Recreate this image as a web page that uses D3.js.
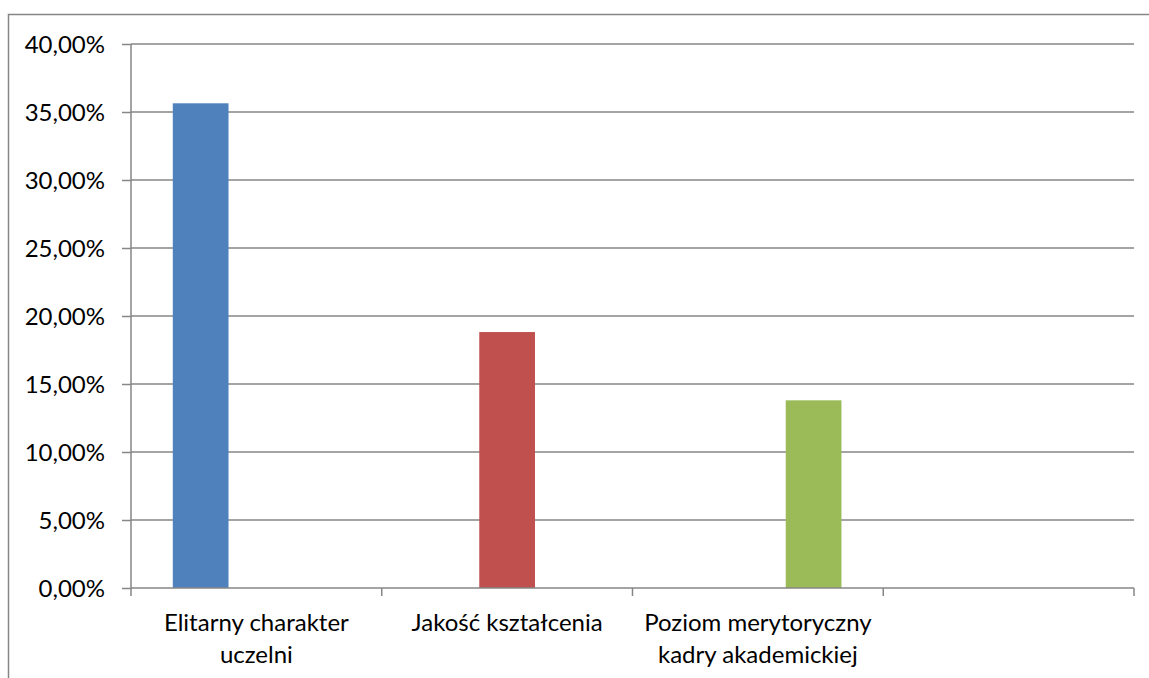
<!DOCTYPE html>
<html>
<head>
<meta charset="utf-8">
<script src="https://cdn.jsdelivr.net/npm/d3@7"></script>
<style>
  html, body { margin: 0; padding: 0; background: #fff; }
  svg { display: block; }
  text { font-family: Lato, "Open Sans", sans-serif; fill: #000; }
</style>
</head>
<body>
<svg id="chart" width="1149" height="678"></svg>
<script>
// Categories (the fourth slot is left without a label)
const categories = ["Elitarny charakter uczelni", "Jakość kształcenia", "Poziom merytoryczny kadry akademickiej", ""];
const categoryLines = [["Elitarny charakter", "uczelni"], ["Jakość kształcenia"], ["Poziom merytoryczny", "kadry akademickiej"], []];
// One series per answer; each has a value only in its own category (percent)
const seriesNames = ["Elitarny charakter uczelni", "Jakość kształcenia", "Poziom merytoryczny kadry akademickiej"];
const seriesElitarny = [35.64, 0, 0, 0];
const seriesJakosc = [0, 18.82, 0, 0];
const seriesPoziom = [0, 0, 13.8, 0];
const seriesColors = ["#4F81BD", "#C0504D", "#9BBB59"];
const yTicks = [0, 5, 10, 15, 20, 25, 30, 35, 40];

const series = [seriesElitarny, seriesJakosc, seriesPoziom];

const svg = d3.select("#chart");
const W = 1149, H = 678;
const plot = { left: 131, right: 1134, top: 44, bottom: 588 };
const gridColor = "#868686";
const fontSize = 24;

// Outer chart border (continues past the right and bottom edges)
svg.append("path")
  .attr("d", `M8.5,${H + 2} V14.5 H${W + 2}`)
  .attr("fill", "none")
  .attr("stroke", gridColor)
  .attr("stroke-width", 1.5);

const x = d3.scaleBand()
  .domain(d3.range(categories.length))
  .range([plot.left, plot.right])
  .paddingInner(0).paddingOuter(0);

// Gap width of 150% of a bar on each cluster
const barW = x.bandwidth() / (series.length + 1.5);
const xs = d3.scaleBand()
  .domain(d3.range(series.length))
  .range([barW * 0.75, barW * 0.75 + barW * series.length])
  .padding(0);

const y = d3.scaleLinear().domain([0, 40]).range([plot.bottom, plot.top]);

// Horizontal gridlines
svg.append("g")
  .selectAll("line")
  .data(yTicks.filter(d => d > 0))
  .join("line")
  .attr("x1", plot.left).attr("x2", plot.right)
  .attr("y1", d => y(d)).attr("y2", d => y(d))
  .attr("stroke", gridColor)
  .attr("stroke-width", 1.5);

// Bars
const fmt = v => v.toFixed(2).replace(".", ",") + "%";
series.forEach((vals, si) => {
  svg.append("g")
    .selectAll("rect")
    .data(vals.map((v, ci) => ({ v, ci })).filter(d => d.v > 0))
    .join("rect")
    .attr("x", d => x(d.ci) + xs(si))
    .attr("width", xs.bandwidth())
    .attr("y", d => y(d.v))
    .attr("height", d => y(0) - y(d.v))
    .attr("fill", seriesColors[si]);
});

// Y axis
const yAxis = d3.axisLeft(y)
  .tickValues(yTicks)
  .tickSize(9)
  .tickPadding(17)
  .tickFormat(fmt);
const gy = svg.append("g").attr("transform", `translate(${plot.left},0)`).call(yAxis);
gy.select(".domain").attr("stroke", gridColor).attr("stroke-width", 1.5).attr("d", `M0,${plot.top}V${plot.bottom}`);
gy.selectAll(".tick line").attr("stroke", gridColor).attr("stroke-width", 1.5);
gy.selectAll(".tick text")
  .style("font-family", "Lato, 'Open Sans', sans-serif")
  .attr("font-size", fontSize)
  .attr("dy", "0.36em");

// X axis with ticks on category boundaries
const xEdges = d3.range(categories.length + 1).map(i => plot.left + i * x.bandwidth());
const gx = svg.append("g");
gx.append("line")
  .attr("x1", plot.left).attr("x2", plot.right)
  .attr("y1", plot.bottom).attr("y2", plot.bottom)
  .attr("stroke", gridColor).attr("stroke-width", 1.5);
gx.selectAll("line.tick")
  .data(xEdges)
  .join("line")
  .attr("class", "tick")
  .attr("x1", d => d).attr("x2", d => d)
  .attr("y1", plot.bottom).attr("y2", plot.bottom + 8)
  .attr("stroke", gridColor).attr("stroke-width", 1.5);

// Category labels
const labels = gx.selectAll("text.cat")
  .data(categoryLines)
  .join("text")
  .attr("class", "cat")
  .attr("text-anchor", "middle")
  .attr("font-size", fontSize)
  .attr("x", (d, i) => x(i) + x.bandwidth() / 2);
labels.selectAll("tspan")
  .data(d => d)
  .join("tspan")
  .attr("x", function () { return d3.select(this.parentNode).attr("x"); })
  .attr("y", (d, i) => 631 + i * 32)
  .text(d => d);
</script>
</body>
</html>
